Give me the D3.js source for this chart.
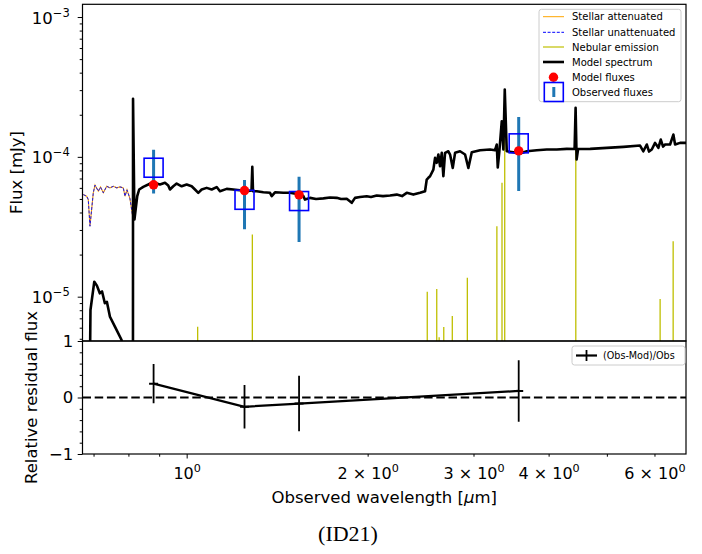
<!DOCTYPE html>
<html><head><meta charset="utf-8">
<script src="https://cdn.jsdelivr.net/npm/d3@7"></script>
<style>
body{margin:0;background:#fff;}
svg{display:block;}
text{font-family:"DejaVu Sans",sans-serif;fill:#000;}
</style></head><body>
<svg id="c" width="702" height="554"></svg>
<script>
// ---------- data (wavelength in micron, flux in mJy) ----------
const specWl = [0.66,0.6887,0.6918,0.702,0.7091,0.717,0.7232,0.731,0.7368,0.7454,0.7597,0.7794,0.7925,0.8124,0.8140,0.8143,0.8187,0.8275,0.8337,0.8468,0.8632,0.8745,0.8914,0.9028,0.9203,0.9319,0.9380,0.9500,0.9624,0.9810,1.0,1.0193,1.0323,1.0454,1.0591,1.0797,1.1006,1.1218,1.1360,1.1656,1.1955,1.2264,1.2585,1.2819,1.2858,1.2892,1.3077,1.3412,1.3760,1.3850,1.4026,1.4479,1.4856,1.5259,1.5633,1.5735,1.6040,1.6413,1.6878,1.7316,1.7766,1.8061,1.8460,1.8817,1.9056,1.9424,1.9929,2.0260,2.0707,2.1212,2.1789,2.2357,2.2816,2.3230,2.3826,2.4445,2.4918,2.5080,2.5235,2.5401,2.5724,2.5892,2.6061,2.6222,2.6393,2.6566,2.6729,2.6904,2.7246,2.7424,2.7709,2.7955,2.8495,2.9046,2.9415,2.9801,3.0763,3.1962,3.2581,3.2794,3.2920,3.3122,3.3429,3.3634,3.3815,3.4076,3.4949,3.5857,3.6790,3.8226,3.9719,4.1271,4.2885,4.4186,4.4356,4.4526,4.4782,4.6903,4.9979,5.3288,5.6778,5.7500,5.8254,5.8767,5.9381,6.0135,6.0901,6.1464,6.2008,6.2485,6.3694,6.4504,6.4926,6.6181,6.7720,6.88];
const specFlux = [1e-7,1e-6,8.03e-6,1.28e-5,1.20e-5,1.057e-5,1.089e-5,8.97e-6,9.17e-6,7.19e-6,6.10e-6,4.9e-6,2e-6,1.5e-6,1e-6,2.6e-4,3.56e-5,5.23e-5,5.84e-5,6.10e-5,6.34e-5,6.52e-5,6.44e-5,6.34e-5,6.52e-5,6.23e-5,5.84e-5,6.16e-5,6.44e-5,6.16e-5,6.34e-5,6.16e-5,5.84e-5,5.53e-5,5.84e-5,6.00e-5,5.84e-5,6.08e-5,5.68e-5,5.90e-5,5.84e-5,5.77e-5,5.68e-5,5.74e-5,8.48e-5,5.68e-5,5.68e-5,5.58e-5,5.53e-5,5.24e-5,5.58e-5,5.53e-5,5.53e-5,5.42e-5,5.24e-5,4.95e-5,5.09e-5,4.99e-5,5.05e-5,5.12e-5,5.09e-5,4.99e-5,5.01e-5,4.69e-5,5.09e-5,5.16e-5,5.23e-5,5.16e-5,5.29e-5,5.24e-5,5.29e-5,5.37e-5,5.24e-5,5.53e-5,5.37e-5,5.53e-5,5.68e-5,6.88e-5,7.08e-5,7.27e-5,8.11e-5,9.84e-5,9.06e-5,1.039e-4,8.57e-5,1.068e-4,7.27e-5,1.068e-4,1.096e-4,1.039e-4,8.34e-5,1.068e-4,1.096e-4,1.039e-4,8.34e-5,1.079e-4,1.115e-4,1.128e-4,1.115e-4,1.225e-4,8.39e-5,1.096e-4,1.797e-4,1.128e-4,3.03e-4,1.096e-4,1.079e-4,1.056e-4,1.096e-4,1.115e-4,1.128e-4,1.128e-4,1.141e-4,1.137e-4,2.24e-4,9.57e-5,1.137e-4,1.141e-4,1.160e-4,1.179e-4,1.204e-4,1.096e-4,1.225e-4,1.091e-4,1.128e-4,1.259e-4,1.160e-4,1.330e-4,1.185e-4,1.225e-4,1.225e-4,1.443e-4,1.225e-4,1.259e-4,1.259e-4,1.26e-4];

const stellarWl = [0.6729,0.6818,0.6860,0.6905,0.6993,0.7039,0.7129,0.7189,0.7267,0.7362,0.7455,0.7550,0.7649,0.7746,0.7845,0.7896,0.7957,0.8047,0.8131];
const stellarAttFlux = [5.37e-5,5.23e-5,4.95e-5,3.19e-5,5.53e-5,6.28e-5,5.68e-5,6.08e-5,5.53e-5,6.16e-5,6.00e-5,6.16e-5,6.00e-5,6.10e-5,6.00e-5,5.23e-5,5.81e-5,5.03e-5,3.76e-5];
const stellarUnattFlux = [5.37e-5,5.23e-5,4.95e-5,3.19e-5,5.53e-5,6.28e-5,5.68e-5,6.08e-5,5.53e-5,6.16e-5,6.00e-5,6.16e-5,6.00e-5,6.10e-5,6.00e-5,5.23e-5,5.81e-5,5.03e-5,3.76e-5];

const nebWl = [0.8143,1.043,1.286,2.513,2.606,2.630,2.677,2.766,2.930,3.281,3.346,3.381,4.439,6.131,6.445];
const nebFlux = [1.9e-4,6.1e-6,2.78e-5,1.086e-5,1.135e-5,5.13e-6,6.07e-6,7.27e-6,1.368e-5,3.19e-5,6.52e-5,1.9e-4,1.16e-4,9.63e-6,2.49e-5];

const obsWl = [0.881,1.248,1.538,3.567];
const obsFlux = [8.36e-5,4.93e-5,4.83e-5,1.249e-4];
const obsErr = [2.9e-5,1.9e-5,2.37e-5,6.8e-5];
const modFlux = [6.31e-5,5.74e-5,5.35e-5,1.104e-4];

const yMajor = [1e-5,1e-4,1e-3];
const xMajorLabels = [[1,""],[2,"2 × "],[3,"3 × "],[4,"4 × "],[6,"6 × "]];
const xMinorTicks = [0.7,0.8,0.9,5];
const resTicks = [-1,0,1];
const legendLabels = ["Stellar attenuated","Stellar unattenuated","Nebular emission","Model spectrum","Model fluxes","Observed fluxes"];

// ---------- layout ----------
const L=82.5, R=686, T1=4.3, B1=341, B2=454;
const svg = d3.select("#c");
const x = d3.scaleLog().domain([0.671,6.77]).range([L,R]);
const y = d3.scaleLog().domain([Math.pow(10,-5.317),Math.pow(10,-2.909)]).range([B1,T1]);
const yr = d3.scaleLinear().domain([-1,1]).range([B2,B1]);

const defs = svg.append("defs");
defs.append("clipPath").attr("id","cp1").append("rect").attr("x",L).attr("y",T1).attr("width",R-L).attr("height",B1-T1);
defs.append("clipPath").attr("id","cp2").append("rect").attr("x",L).attr("y",B1).attr("width",R-L).attr("height",B2-B1);

const g1 = svg.append("g").attr("clip-path","url(#cp1)");
const line = d3.line().x(d=>x(d[0])).y(d=>y(d[1]));

// stellar
g1.append("path").datum(stellarWl.map((w,i)=>[w,stellarAttFlux[i]]))
  .attr("d",line).attr("fill","none").attr("stroke","#ffa500").attr("stroke-width",1.1);
g1.append("path").datum(stellarWl.map((w,i)=>[w,stellarUnattFlux[i]]))
  .attr("d",line).attr("fill","none").attr("stroke","#0000ff").attr("stroke-width",0.9).attr("stroke-dasharray","3,1.6");
// nebular
g1.selectAll("line.neb").data(nebWl.map((w,i)=>[w,nebFlux[i]])).enter().append("line")
  .attr("x1",d=>x(d[0])).attr("x2",d=>x(d[0])).attr("y1",B1+5).attr("y2",d=>y(d[1]))
  .attr("stroke","#bfbf00").attr("stroke-width",1.3);
// model spectrum
g1.append("path").datum(specWl.map((w,i)=>[w,specFlux[i]]))
  .attr("d",line).attr("fill","none").attr("stroke","#000").attr("stroke-width",2.6).attr("stroke-linejoin","round");
// observed
const obs = obsWl.map((w,i)=>({w,f:obsFlux[i],e:obsErr[i],m:modFlux[i]}));
g1.selectAll("line.err").data(obs).enter().append("line")
  .attr("x1",d=>x(d.w)).attr("x2",d=>x(d.w)).attr("y1",d=>y(d.f+d.e)).attr("y2",d=>y(d.f-d.e))
  .attr("stroke","#1f77b4").attr("stroke-width",3);
g1.selectAll("rect.obs").data(obs).enter().append("rect")
  .attr("x",d=>x(d.w)-9.5).attr("y",d=>y(d.f)-9.5).attr("width",19).attr("height",19)
  .attr("fill","none").attr("stroke","#0000ff").attr("stroke-width",1.6);
g1.selectAll("circle.mod").data(obs).enter().append("circle")
  .attr("cx",d=>x(d.w)).attr("cy",d=>y(d.m)).attr("r",4.7).attr("fill","#ff0000");

// ---------- residual panel ----------
const g2 = svg.append("g").attr("clip-path","url(#cp2)");
g2.append("line").attr("x1",L).attr("x2",R).attr("y1",yr(0)).attr("y2",yr(0))
  .attr("stroke","#000").attr("stroke-width",2.2).attr("stroke-dasharray","8.5,3.7");
const res = obs.map(d=>({w:d.w,r:(d.f-d.m)/d.f,e:d.e/d.f}));
g2.append("path").datum(res).attr("d",d3.line().x(d=>x(d.w)).y(d=>yr(d.r)))
  .attr("fill","none").attr("stroke","#000").attr("stroke-width",2.2);
g2.selectAll("line.rerr").data(res).enter().append("line")
  .attr("x1",d=>x(d.w)).attr("x2",d=>x(d.w)).attr("y1",d=>yr(d.r+d.e)).attr("y2",d=>yr(d.r-d.e))
  .attr("stroke","#000").attr("stroke-width",1.8);
g2.selectAll("line.rm").data(res).enter().append("line")
  .attr("x1",d=>x(d.w)-4.5).attr("x2",d=>x(d.w)+4.5).attr("y1",d=>yr(d.r)).attr("y2",d=>yr(d.r))
  .attr("stroke","#000").attr("stroke-width",2);

// ---------- axes ----------
const FS = 16;
function styleAxis(g){ g.select(".domain").remove(); g.selectAll(".tick line").attr("stroke","#000").attr("stroke-width",1); }

// top y axis
const yMinor = [];
[-6,-5,-4,-3].forEach(e=>{ for(let k=2;k<=9;k++){ const v=k*Math.pow(10,e); if(v>=y.domain()[0]&&v<=y.domain()[1]) yMinor.push(v);} });
const ay1 = svg.append("g").attr("transform",`translate(${L},0)`)
  .call(d3.axisLeft(y).tickValues(yMajor).tickSize(4.8).tickPadding(8).tickFormat(()=>""));
styleAxis(ay1);
ay1.selectAll(".tick text").attr("font-size",FS+0.5).attr("font-family","DejaVu Sans").attr("dy",null).attr("y",6)
  .each(function(d){ const t=d3.select(this); const e=Math.round(Math.log10(d));
    t.append("tspan").text("10"); t.append("tspan").attr("dy",-7).attr("font-size",11.5).text("−"+Math.abs(e)); });
const ay1m = svg.append("g").attr("transform",`translate(${L},0)`)
  .call(d3.axisLeft(y).tickValues(yMinor).tickSize(2.8).tickFormat(()=>""));
styleAxis(ay1m);

// residual y axis
const yrMinor = d3.range(-0.8,0.81,0.2).filter(v=>Math.abs(v)>1e-6);
const ay2 = svg.append("g").attr("transform",`translate(${L},0)`)
  .call(d3.axisLeft(yr).tickValues(resTicks).tickSize(4.8).tickPadding(4.5).tickFormat(d=>d<0?"−"+Math.abs(d):String(d)));
styleAxis(ay2);
ay2.selectAll(".tick text").attr("font-size",FS+0.5).attr("font-family","DejaVu Sans");
const ay2m = svg.append("g").attr("transform",`translate(${L},0)`)
  .call(d3.axisLeft(yr).tickValues(yrMinor).tickSize(2.8).tickFormat(()=>""));
styleAxis(ay2m);

// bottom x axis
const ax = svg.append("g").attr("transform",`translate(0,${B2})`)
  .call(d3.axisBottom(x).tickValues(xMajorLabels.map(d=>d[0])).tickSize(4.5).tickFormat(()=>""));
styleAxis(ax);
ax.selectAll(".tick line").attr("y2",d=>d===1?4.5:2.7);
ax.selectAll(".tick text").attr("font-size",FS).attr("font-family","DejaVu Sans").attr("dy",null).attr("y",25)
  .each(function(d){ const t=d3.select(this); const lab=xMajorLabels.find(e=>e[0]===d)[1];
    t.append("tspan").text(lab+"10"); t.append("tspan").attr("dy",-7).attr("font-size",11.2).text("0"); });
const axm = svg.append("g").attr("transform",`translate(0,${B2})`)
  .call(d3.axisBottom(x).tickValues(xMinorTicks).tickSize(2.7).tickFormat(()=>""));
styleAxis(axm);

// frames
svg.append("rect").attr("x",L).attr("y",T1).attr("width",R-L).attr("height",B1-T1).attr("fill","none").attr("stroke","#000").attr("stroke-width",1.2);
svg.append("rect").attr("x",L).attr("y",B1).attr("width",R-L).attr("height",B2-B1).attr("fill","none").attr("stroke","#000").attr("stroke-width",1.2);

// axis labels
svg.append("text").attr("transform","translate(22,172.5) rotate(-90)").attr("text-anchor","middle").attr("font-size",16.5).text("Flux [mJy]");
svg.append("text").attr("transform","translate(37,397.5) rotate(-90)").attr("text-anchor","middle").attr("font-size",16.5).text("Relative residual flux");
const xl = svg.append("text").attr("x",(L+R)/2).attr("y",503).attr("text-anchor","middle").attr("font-size",16.5);
xl.append("tspan").text("Observed wavelength [");
xl.append("tspan").attr("font-style","italic").text("μ");
xl.append("tspan").text("m]");
svg.append("text").attr("x",348).attr("y",541).attr("text-anchor","middle").attr("font-size",22)
  .style("font-family","'Liberation Serif','DejaVu Serif',serif").text("(ID21)");

// ---------- top legend ----------
const lg = svg.append("g");
lg.append("rect").attr("x",539).attr("y",9.3).attr("width",142).attr("height",92.4).attr("rx",2.5)
  .attr("fill","#fff").attr("fill-opacity",0.8).attr("stroke","#cccccc").attr("stroke-width",1);
const ly = [16.7,32.3,47,62,77.3,92];
legendLabels.forEach((t,i)=>{
  lg.append("text").attr("x",572).attr("y",ly[i]+3.6).attr("font-size",10).text(t);
});
lg.append("line").attr("x1",543).attr("x2",564).attr("y1",ly[0]).attr("y2",ly[0]).attr("stroke","#ffa500").attr("stroke-width",1);
lg.append("line").attr("x1",543).attr("x2",564).attr("y1",ly[1]).attr("y2",ly[1]).attr("stroke","#0000ff").attr("stroke-width",1).attr("stroke-dasharray","3,1.6");
lg.append("line").attr("x1",543).attr("x2",564).attr("y1",ly[2]).attr("y2",ly[2]).attr("stroke","#bfbf00").attr("stroke-width",1.2);
lg.append("line").attr("x1",543).attr("x2",564).attr("y1",ly[3]).attr("y2",ly[3]).attr("stroke","#000").attr("stroke-width",2.6);
lg.append("circle").attr("cx",553.5).attr("cy",ly[4]).attr("r",4.7).attr("fill","#ff0000");
lg.append("line").attr("x1",553.8).attr("x2",553.8).attr("y1",ly[5]-5).attr("y2",ly[5]+5).attr("stroke","#1f77b4").attr("stroke-width",3);
lg.append("rect").attr("x",544.3).attr("y",ly[5]-9.5).attr("width",19).attr("height",19).attr("fill","none").attr("stroke","#0000ff").attr("stroke-width",1.6);

// ---------- residual legend ----------
const lg2 = svg.append("g");
lg2.append("rect").attr("x",572).attr("y",346).attr("width",113).attr("height",19).attr("rx",2.5)
  .attr("fill","#fff").attr("fill-opacity",0.8).attr("stroke","#cccccc").attr("stroke-width",1);
lg2.append("line").attr("x1",576).attr("x2",597).attr("y1",355.5).attr("y2",355.5).attr("stroke","#000").attr("stroke-width",2.2);
lg2.append("line").attr("x1",586.5).attr("x2",586.5).attr("y1",350).attr("y2",361).attr("stroke","#000").attr("stroke-width",1.8);
lg2.append("text").attr("x",603).attr("y",359).attr("font-size",9.6).text("(Obs-Mod)/Obs");
</script>
</body></html>
